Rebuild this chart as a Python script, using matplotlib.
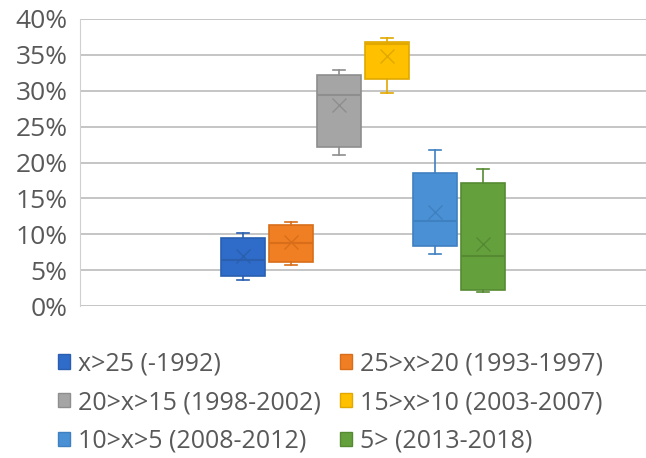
import matplotlib.pyplot as plt
from matplotlib.patches import Patch
from matplotlib.ticker import FuncFormatter

plt.rcParams['font.family'] = ['Open Sans', 'DejaVu Sans']

# Age groups of the buildings
labels = ['x>25 (-1992)', '25>x>20 (1993-1997)', '20>x>15 (1998-2002)',
          '15>x>10 (2003-2007)', '10>x>5 (2008-2012)', '5> (2013-2018)']
colors = ['#2F6BC8', '#F07E22', '#A5A5A5', '#FFC000', '#4A90D4', '#64A03C']
edges = ['#2A5FB0', '#D86E1A', '#8E8E8E', '#E0A800', '#3F80C0', '#558A32']

# Box statistics (fractions)
whis_lo = [0.036, 0.057, 0.210, 0.297, 0.072, 0.019]
q1 = [0.042, 0.062, 0.222, 0.316, 0.084, 0.022]
median = [0.064, 0.088, 0.294, 0.365, 0.118, 0.070]
q3 = [0.095, 0.113, 0.322, 0.368, 0.186, 0.171]
whis_hi = [0.102, 0.117, 0.329, 0.373, 0.218, 0.191]
mean = [0.069, 0.089, 0.280, 0.348, 0.131, 0.087]

fig = plt.figure(figsize=(6.46, 4.58), dpi=100)
ax = fig.add_axes([80 / 646, 1 - 306 / 458, 566 / 646, 287 / 458])

for i in range(len(labels)):
    stats = [dict(whislo=whis_lo[i], q1=q1[i], med=median[i], q3=q3[i],
                  whishi=whis_hi[i], mean=mean[i], fliers=[])]
    ax.bxp(stats, positions=[i + 1], widths=0.92, patch_artist=True,
           showmeans=True, meanline=False,
           boxprops=dict(facecolor=colors[i], edgecolor=edges[i], linewidth=1.2),
           medianprops=dict(color=edges[i], linewidth=1.5),
           whiskerprops=dict(color=edges[i], linewidth=1.2),
           capprops=dict(color=edges[i], linewidth=1.2),
           capwidths=0.25,
           meanprops=dict(marker='x', markeredgecolor=edges[i], markersize=10,
                          markeredgewidth=1.0))

ax.set_xlim(-2.396, 9.396)
ax.set_ylim(0, 0.40)
ax.set_yticks([i * 0.05 for i in range(9)])
ax.yaxis.set_major_formatter(FuncFormatter(lambda v, p: f'{v * 100:.0f}%'))
ax.set_xticks([])
ax.tick_params(axis='y', length=0, labelsize=19, labelcolor='#595959', pad=9)
ax.grid(axis='y', color='#C0C0C0', linewidth=1.3)
ax.set_axisbelow(True)
for side in ['top', 'right', 'bottom']:
    ax.spines[side].set_visible(False)
ax.spines['left'].set_color('#D0D0D0')

# legend reads row by row, so feed the columns in that order
handles = [Patch(facecolor=c, edgecolor=e, label=l) for c, e, l in zip(colors, edges, labels)]
order = [0, 2, 4, 1, 3, 5]
fig.legend(handles=[handles[k] for k in order], ncol=2, loc='upper left',
           bbox_to_anchor=(0.0625, 0.271),
           frameon=False, fontsize=18, labelcolor='#595959',
           handlelength=0.5, handleheight=0.5, handletextpad=0.3,
           columnspacing=0.76, labelspacing=0.55, borderpad=0.2)

fig.savefig('out.png', dpi=100)
